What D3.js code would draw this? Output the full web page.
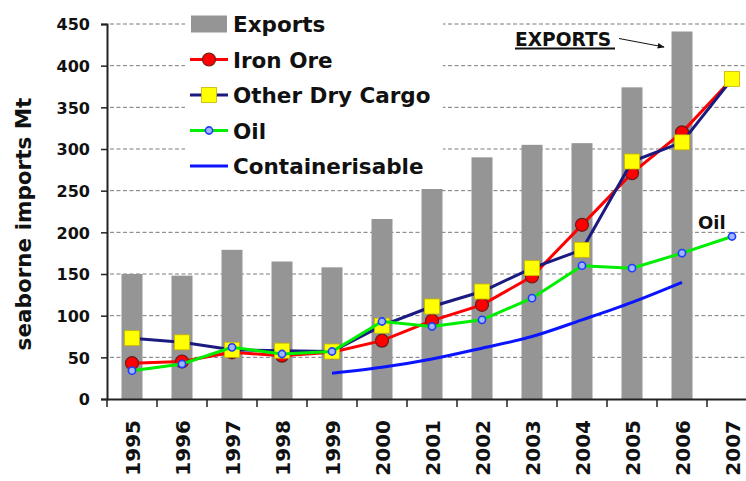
<!DOCTYPE html>
<html>
<head>
<meta charset="utf-8">
<script src="https://cdn.jsdelivr.net/npm/d3@7"></script>
<style>
  body { margin: 0; background: #fff; }
  text { font-family: "DejaVu Sans", sans-serif; font-weight: bold; fill: #111; }
</style>
</head>
<body>
<div id="chart"></div>
<script>
// data (million tonnes)
var years = ["1995","1996","1997","1998","1999","2000","2001","2002","2003","2004","2005","2006","2007"];
var exportsMt = [150, 148, 179, 165, 158, 216, 252, 290, 305, 307, 374, 441, null];
var ironOre = [43, 45, 56, 52, 56, 70, 94, 113, 147, 209, 271, 320, 384];
var otherDryCargo = [73, 68, 59, 58, 57, 88, 111, 129, 157, 179, 285, 308, 384];
var oil = [34, 42, 62, 54, 57, 93, 87, 95, 121, 160, 157, 175, 195];
var containerisable = [null, null, null, null, 31, 38, 48, 61, 75, 95, 116, 140, null];
var yTicks = [0, 50, 100, 150, 200, 250, 300, 350, 400, 450];

var W = 746, H = 481;
var svg = d3.select("#chart").append("svg")
  .attr("width", W)
  .attr("height", H);

var x = d3.scaleBand().domain(years).range([107, 757]);
var y = d3.scaleLinear().domain([0, 450]).range([399, 24]);
var cx = function (d, i) { return x(years[i]) + x.bandwidth() / 2; };

// gridlines
svg.append("g")
  .selectAll("line")
  .data(yTicks.filter(function (t) { return t > 0; }))
  .enter().append("line")
  .attr("x1", 110).attr("x2", W)
  .attr("y1", function (d) { return y(d); })
  .attr("y2", function (d) { return y(d); })
  .attr("stroke", "#7a7a7a")
  .attr("stroke-width", 1)
  .attr("stroke-dasharray", "4,2.5");

// bars
var barW = x.bandwidth() * 0.42;
svg.append("g")
  .selectAll("rect")
  .data(exportsMt)
  .enter().filter(function (d) { return d != null; })
  .append("rect")
  .attr("x", function (d, i) { return cx(d, i) - barW / 2; })
  .attr("y", function (d) { return y(d); })
  .attr("width", barW)
  .attr("height", function (d) { return y(0) - y(d); })
  .attr("fill", "#959595");

// legend box hides the grid behind it
svg.append("rect")
  .attr("x", 185).attr("y", 2)
  .attr("width", 258).attr("height", 176)
  .attr("fill", "#fff");

// axes
var yAxis = svg.append("g")
  .attr("transform", "translate(107,0)")
  .call(d3.axisLeft(y).tickValues(yTicks).tickSize(6).tickPadding(11));
yAxis.select(".domain").attr("stroke", "#222").attr("stroke-width", 2);
yAxis.selectAll(".tick line").attr("stroke", "#222").attr("stroke-width", 1.5);
yAxis.selectAll(".tick text")
  .attr("font-size", 16)
  .attr("font-family", "DejaVu Sans")
  .attr("dy", "0.36em");

var xAxis = svg.append("g")
  .attr("transform", "translate(0,399)")
  .call(d3.axisBottom(x).tickSize(8).tickSizeOuter(0).tickPadding(0));
xAxis.select(".domain").attr("stroke", "#222").attr("stroke-width", 2);
xAxis.selectAll(".tick line")
  .attr("stroke", "#222").attr("stroke-width", 1.5)
  .attr("x1", -x.step() / 2).attr("x2", -x.step() / 2);
xAxis.selectAll(".tick text")
  .attr("font-size", 20)
  .attr("font-family", "DejaVu Sans")
  .attr("text-anchor", "end")
  .attr("dy", null)
  .attr("transform", "translate(7.5,21) rotate(-90)")
  .attr("y", 0);

// y title
svg.append("text")
  .attr("transform", "translate(31,224) rotate(-90)")
  .attr("text-anchor", "middle")
  .attr("font-size", 21.5)
  .text("seaborne imports Mt");

function valid(d) { return d != null; }

// containerisable
svg.append("path")
  .datum(containerisable)
  .attr("fill", "none")
  .attr("stroke", "#0a14ff")
  .attr("stroke-width", 3)
  .attr("d", d3.line().defined(valid).curve(d3.curveMonotoneX)
    .x(cx).y(function (d) { return y(d); }));

var line = d3.line().defined(valid).x(cx).y(function (d) { return y(d); });

// iron ore
svg.append("path").datum(ironOre)
  .attr("fill", "none").attr("stroke", "#ff0000").attr("stroke-width", 3)
  .attr("d", line);
svg.append("g").selectAll("circle").data(ironOre).enter().append("circle")
  .attr("cx", cx).attr("cy", function (d) { return y(d); })
  .attr("r", 6.5)
  .attr("fill", "#ff0000").attr("stroke", "#6b1a1a").attr("stroke-width", 1.2);

// other dry cargo
svg.append("path").datum(otherDryCargo)
  .attr("fill", "none").attr("stroke", "#1a1a80").attr("stroke-width", 3)
  .attr("d", line);
svg.append("g").selectAll("rect").data(otherDryCargo).enter().append("rect")
  .attr("x", function (d, i) { return cx(d, i) - 7.5; })
  .attr("y", function (d) { return y(d) - 7.5; })
  .attr("width", 15).attr("height", 15)
  .attr("fill", "#ffff00").attr("stroke", "#c8b400").attr("stroke-width", 0.8);

// oil
svg.append("path").datum(oil)
  .attr("fill", "none").attr("stroke", "#00ee00").attr("stroke-width", 3)
  .attr("d", line);
svg.append("g").selectAll("circle").data(oil).enter().append("circle")
  .attr("cx", cx).attr("cy", function (d) { return y(d); })
  .attr("r", 3.6)
  .attr("fill", "#9fb8ff").attr("stroke", "#1f3cff").attr("stroke-width", 1.6);

// legend
var legendRows = ["Exports", "Iron Ore", "Other Dry Cargo", "Oil", "Containerisable"];
var legY = d3.scalePoint().domain(legendRows).range([24, 166]);
var leg = svg.append("g");
leg.selectAll("text").data(legendRows).enter().append("text")
  .attr("x", 233)
  .attr("y", function (d) { return legY(d) + 8; })
  .attr("font-size", 21.5)
  .text(function (d) { return d; });

leg.append("rect")
  .attr("x", 191).attr("y", legY("Exports") - 8.5)
  .attr("width", 36).attr("height", 17)
  .attr("fill", "#959595");

function legLine(name, color) {
  leg.append("line")
    .attr("x1", 190).attr("x2", 228)
    .attr("y1", legY(name)).attr("y2", legY(name))
    .attr("stroke", color).attr("stroke-width", 3);
}
legLine("Iron Ore", "#ff0000");
leg.append("circle").attr("cx", 209).attr("cy", legY("Iron Ore")).attr("r", 6.5)
  .attr("fill", "#ff0000").attr("stroke", "#6b1a1a").attr("stroke-width", 1.2);
legLine("Other Dry Cargo", "#1a1a80");
leg.append("rect").attr("x", 201.5).attr("y", legY("Other Dry Cargo") - 7.5)
  .attr("width", 15).attr("height", 15)
  .attr("fill", "#ffff00").attr("stroke", "#c8b400").attr("stroke-width", 0.8);
legLine("Oil", "#00ee00");
leg.append("circle").attr("cx", 209).attr("cy", legY("Oil")).attr("r", 3.6)
  .attr("fill", "#9fb8ff").attr("stroke", "#1f3cff").attr("stroke-width", 1.6);
legLine("Containerisable", "#0a14ff");

// annotations
svg.append("defs").append("marker")
  .attr("id", "arrow")
  .attr("viewBox", "0 0 10 10")
  .attr("refX", 9).attr("refY", 5)
  .attr("markerWidth", 7).attr("markerHeight", 7)
  .attr("orient", "auto")
  .append("path")
  .attr("d", "M0,1 L10,5 L0,9 Z")
  .attr("fill", "#111");

svg.append("text")
  .attr("x", 515).attr("y", 45.5)
  .attr("font-size", 18.6)
  .text("EXPORTS");
svg.append("line")
  .attr("x1", 515).attr("x2", 615)
  .attr("y1", 48.5).attr("y2", 48.5)
  .attr("stroke", "#111").attr("stroke-width", 2);
svg.append("line")
  .attr("x1", 619).attr("y1", 38.5)
  .attr("x2", 664).attr("y2", 47)
  .attr("stroke", "#111").attr("stroke-width", 1)
  .attr("marker-end", "url(#arrow)");

svg.append("text")
  .attr("x", 698).attr("y", 229)
  .attr("font-size", 18)
  .text("Oil");
</script>
</body>
</html>
